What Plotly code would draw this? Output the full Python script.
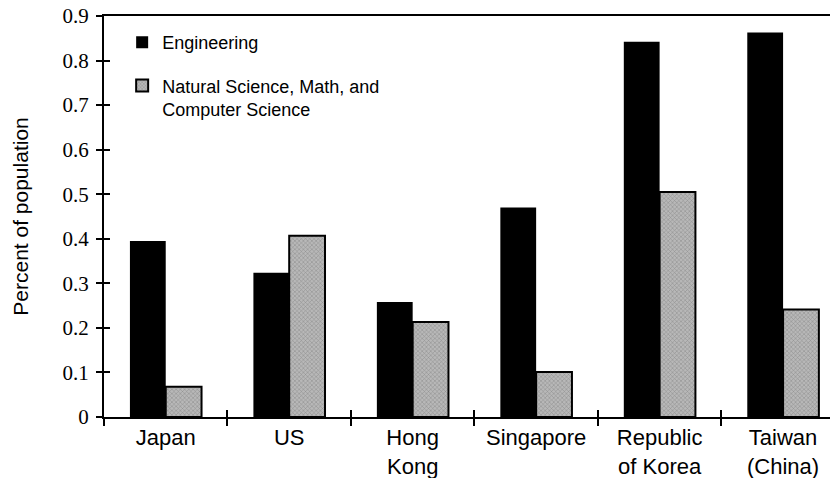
import plotly.graph_objects as go

categories = ["Japan", "US", "Hong<br>Kong", "Singapore", "Republic<br>of Korea", "Taiwan<br>(China)"]
engineering = [0.395, 0.324, 0.258, 0.470, 0.842, 0.863]
natural_science = [0.068, 0.407, 0.213, 0.101, 0.505, 0.241]
y_ticks = [0, 0.1, 0.2, 0.3, 0.4, 0.5, 0.6, 0.7, 0.8, 0.9]
y_ticktext = ["0", "0.1", "0.2", "0.3", "0.4", "0.5", "0.6", "0.7", "0.8", "0.9"]
x_boundaries = [-0.5, 0.5, 1.5, 2.5, 3.5, 4.5, 5.5]

SANS = "Liberation Sans, Arial, sans-serif"
SERIF = "Liberation Serif, Times New Roman, serif"
X_RANGE = [-0.5, 5.38]

fig = go.Figure()
fig.add_trace(go.Bar(
    x=categories, y=engineering, name="Engineering",
    marker=dict(color="black", line=dict(color="black", width=0)),
    legendgroup="a",
))
fig.add_trace(go.Bar(
    x=categories, y=natural_science,
    name="Natural Science, Math, and<br>Computer Science",
    marker=dict(color="#acacac", line=dict(color="black", width=2),
                pattern=dict(shape="x", fgcolor="#5a5a5a", bgcolor="#b8b8b8", size=3, solidity=0.3)),
    legendgroup="b",
))
# empty trace so the overlaid tick-only axes (crossing ticks) are drawn
fig.add_trace(go.Scatter(x=[], y=[], xaxis="x2", yaxis="y2", showlegend=False, hoverinfo="skip"))

fig.update_layout(
    width=830, height=478,
    margin=dict(l=104, r=0, t=16, b=61, autoexpand=False),
    paper_bgcolor="white", plot_bgcolor="white",
    barmode="group", bargap=0.42, bargroupgap=0,
    font=dict(family=SANS, color="black"),
    legend=dict(x=0.025, y=0.98, xanchor="left", yanchor="top",
                font=dict(size=18, family=SANS),
                itemwidth=30, tracegroupgap=17, valign="top",
                bgcolor="rgba(0,0,0,0)"),
    showlegend=True,
    xaxis=dict(
        type="category", range=X_RANGE,
        showline=True, linecolor="black", linewidth=1.5, mirror=True,
        ticks="outside", tickson="boundaries", ticklen=7, tickwidth=1.5, tickcolor="black",
        tickfont=dict(size=22, family=SANS),
        showgrid=False, zeroline=False, automargin=False,
    ),
    yaxis=dict(
        range=[0, 0.9], tickvals=y_ticks, ticktext=y_ticktext,
        showline=True, linecolor="black", linewidth=2,
        ticks="outside", ticklen=6, tickwidth=1.5, tickcolor="black",
        tickfont=dict(size=21, family=SERIF), ticklabelstandoff=3,
        showgrid=False, zeroline=False, automargin=False,
        title=dict(text="Percent of population", font=dict(size=21, family=SANS), standoff=28),
    ),
    xaxis2=dict(
        overlaying="x", anchor="y", range=X_RANGE, tickvals=x_boundaries,
        ticks="inside", ticklen=7, tickwidth=1.5, tickcolor="black",
        showticklabels=False, showline=False, showgrid=False, zeroline=False,
    ),
    yaxis2=dict(
        overlaying="y", anchor="x", side="left", range=[0, 0.9], tickvals=y_ticks,
        ticks="inside", ticklen=6, tickwidth=1.5, tickcolor="black",
        showticklabels=False, showline=False, showgrid=False, zeroline=False,
    ),
)

fig.write_html("out.html", config={"displayModeBar": False},
               post_script="document.body.style.margin='0';")
